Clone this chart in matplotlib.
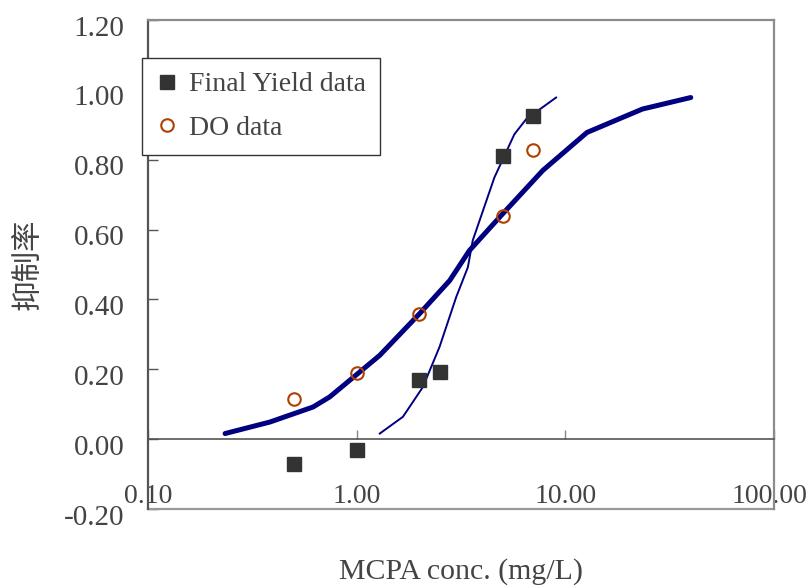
import matplotlib
matplotlib.use("Agg")
import matplotlib.pyplot as plt
from matplotlib.ticker import NullLocator
from matplotlib.transforms import ScaledTranslation

# measured points
conc_yield = [0.5, 1.0, 2.0, 2.5, 5.0, 7.0]
inhib_yield = [-0.07, -0.03, 0.17, 0.193, 0.811, 0.926]
conc_do = [0.5, 1.0, 2.0, 5.0, 7.0]
inhib_do = [0.114, 0.188, 0.359, 0.64, 0.828]

# fitted curves
fit_do_x = [0.234, 0.384, 0.618, 0.743, 1.0, 1.29, 2.0, 2.79, 3.47, 4.92, 7.79, 12.7, 23.4, 39.9]
fit_do_y = [0.016, 0.049, 0.092, 0.121, 0.185, 0.24, 0.359, 0.454, 0.54, 0.64, 0.769, 0.878, 0.945, 0.978]
fit_yield_x = [1.29, 1.666, 2.075, 2.495, 3.0, 3.41, 3.60, 4.57, 5.70, 6.49, 9.03]
fit_yield_y = [0.016, 0.064, 0.149, 0.264, 0.407, 0.492, 0.569, 0.749, 0.873, 0.916, 0.978]

x_ticks = [0.1, 1, 10, 100]
x_labels = ["0.10", "1.00", "10.00", "100.00"]
y_ticks = [-0.2, 0.0, 0.2, 0.4, 0.6, 0.8, 1.0, 1.2]
y_labels = ["-0.20", "0.00", "0.20", "0.40", "0.60", "0.80", "1.00", "1.20"]

plt.rcParams["font.family"] = ["Liberation Serif", "DejaVu Serif"]
txt = "#444444"

fig = plt.figure(figsize=(8.12, 5.86), dpi=100)
ax = fig.add_axes([0.1823, 0.1314, 0.7709, 0.8345])

ax.plot(fit_do_x, fit_do_y, color="#000080", lw=3.6, solid_capstyle="round")
ax.plot(fit_yield_x, fit_yield_y, color="#000080", lw=1.4)
ax.plot(conc_yield, inhib_yield, ls="none", marker="s", ms=10, color="#333333",
        mec="#333333", label="Final Yield data", clip_on=False)
ax.plot(conc_do, inhib_do, ls="none", marker="o", ms=9, mfc="none", mec="#B04000",
        mew=1.5, label="DO data")

ax.set_xscale("log")
ax.set_xlim(0.1, 100)
ax.set_ylim(-0.2, 1.2)
ax.set_xticks(x_ticks, labels=x_labels)
ax.xaxis.set_minor_locator(NullLocator())
ax.set_yticks(y_ticks, labels=y_labels)

# x axis sits on y = 0, frame closes at -0.2
ax.spines["bottom"].set_position(("data", 0))
ax.spines["bottom"].set_color("#555555")
ax.spines["bottom"].set_linewidth(1.2)
ax.spines["left"].set_color("#555555")
ax.spines["left"].set_linewidth(1.6)
for s in ["top", "right"]:
    ax.spines[s].set_color("#8c8c8c")
    ax.spines[s].set_linewidth(1.6)
ax.plot([0, 1], [0, 0], transform=ax.transAxes, color="#999999", lw=1.6, clip_on=False)

ax.tick_params(axis="x", direction="in", length=6.5, width=1, color="#888888",
               pad=32, labelsize=20, labelcolor=txt)
ax.tick_params(axis="y", direction="in", length=7, width=1, color="#555555",
               pad=17, labelsize=21, labelcolor=txt)
shift = ScaledTranslation(0, -4 / 72, fig.dpi_scale_trans)
for lab in ax.get_yticklabels():
    lab.set_transform(lab.get_transform() + shift)
last = ax.get_xticklabels()[-1]
last.set_transform(last.get_transform() + ScaledTranslation(-3.5 / 72, 0, fig.dpi_scale_trans))

ax.set_xlabel("MCPA conc. (mg/L)", fontsize=21.5, color=txt)
ax.xaxis.set_label_coords(0.5, -0.1)
ax.set_ylabel("抑制率", fontsize=22, color=txt, family=["Noto Sans CJK TC", "DejaVu Sans"])
ax.yaxis.set_label_coords(-0.165, 0.5)

leg = ax.legend(loc="upper left", bbox_to_anchor=(-0.01, 0.922), borderaxespad=0,
                fontsize=20, frameon=True, fancybox=False, framealpha=1,
                edgecolor="#333333", handlelength=0.8, handletextpad=0.4,
                labelspacing=0.65, borderpad=0.5)
leg.get_frame().set_linewidth(1.0)
for t in leg.get_texts():
    t.set_color(txt)

fig.savefig("out.png", dpi=100)
plt.close(fig)
